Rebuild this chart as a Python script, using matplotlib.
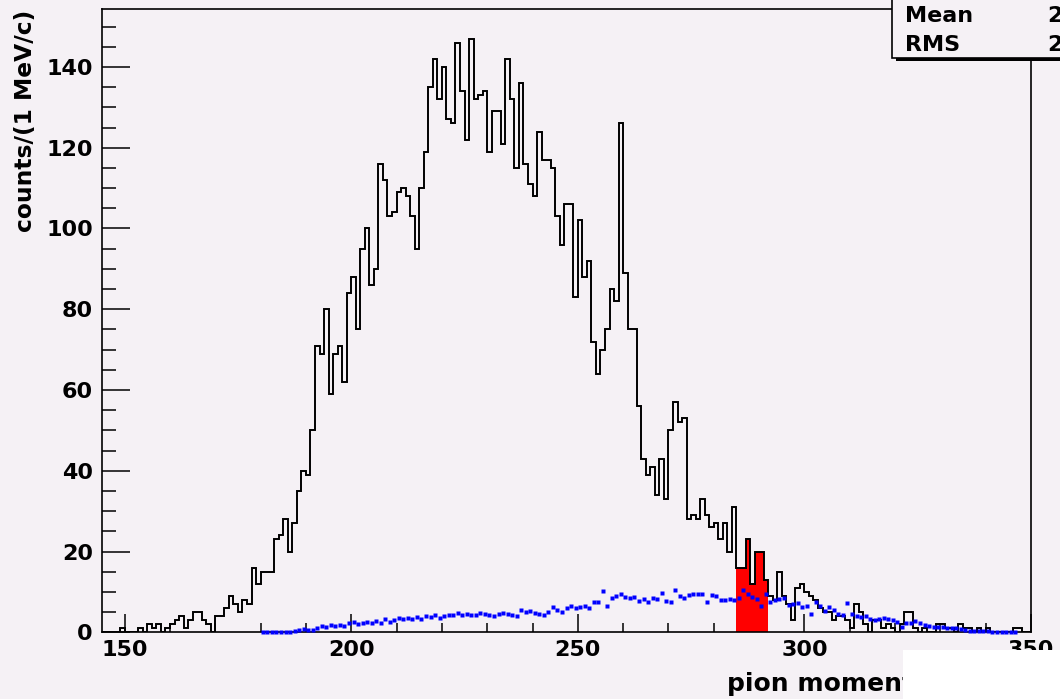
import numpy as np
import matplotlib
matplotlib.use("Agg")
import matplotlib.pyplot as plt
from matplotlib.patches import Rectangle
from matplotlib.ticker import MultipleLocator

# ---- data: 1 MeV/c bins -------------------------------------------------
bin_low = 145          # lower edge of the first bin (MeV/c)
signal_counts = [
    0, 0, 0, 0, 1, 0, 0, 0, 1, 0,
    2, 1, 2, 0, 1, 2, 3, 4, 1, 3,
    5, 5, 3, 2, 0, 4, 4, 6, 9, 7,
    5, 8, 7, 16, 12, 15, 15, 15, 23, 24,
    28, 20, 27, 35, 40, 39, 50, 71, 69, 80,
    59, 69, 71, 62, 84, 88, 75, 95, 100, 86,
    90, 116, 112, 103, 104, 109, 110, 108, 103, 95,
    110, 119, 135, 142, 132, 140, 127, 126, 146, 134,
    122, 147, 132, 133, 134, 119, 129, 129, 121, 142,
    132, 115, 136, 116, 111, 108, 124, 117, 117, 115,
    103, 96, 106, 106, 83, 102, 88, 92, 72, 64,
    70, 75, 85, 82, 126, 89, 75, 75, 56, 43,
    39, 41, 34, 43, 33, 50, 57, 52, 53, 28,
    29, 28, 33, 29, 26, 27, 23, 27, 20, 31,
    16, 16, 23, 12, 20, 20, 13, 9, 8, 15,
    9, 7, 3, 11, 12, 10, 9, 8, 6, 5,
    5, 3, 4, 4, 3, 1, 7, 5, 2, 0,
    3, 3, 1, 2, 1, 0, 2, 5, 5, 1,
    0, 1, 0, 0, 2, 2, 1, 1, 0, 2,
    1, 1, 0, 1, 0, 1, 0, 0, 0, 0,
    0, 1, 1, 0, 0,
]

bkg_low = 180          # first bin of the background estimate
bkg_counts = [
    0, 0, 0, 0, 0, 0, 0, 0.4, 0.5, 0.7,
    0.6, 0.5, 1.0, 1.5, 1.2, 1.8, 1.6, 1.8, 1.5, 2.2,
    2.6, 2.0, 2.4, 2.6, 2.2, 2.8, 2.4, 3.2, 2.6, 3.0,
    3.6, 3.2, 3.6, 3.4, 3.8, 3.4, 4.0, 3.8, 4.2, 3.6,
    4.0, 4.4, 4.2, 4.8, 4.2, 4.6, 4.4, 4.2, 4.8, 4.6,
    4.2, 4.0, 4.6, 4.8, 4.6, 4.4, 4.0, 5.4, 5.0, 5.2,
    4.8, 4.6, 4.2, 5.0, 6.2, 5.6, 5.0, 6.0, 6.4, 6.0,
    6.2, 6.6, 6.0, 7.4, 7.6, 10.2, 6.6, 8.4, 9.0, 9.4,
    8.8, 8.4, 8.8, 7.8, 8.2, 7.4, 8.6, 8.2, 9.8, 7.8,
    7.6, 10.4, 9.0, 8.6, 9.2, 9.4, 9.6, 9.6, 7.6, 9.2,
    9.0, 8.0, 8.0, 8.2, 8.0, 8.4, 10.4, 9.6, 8.8, 8.2,
    6.4, 9.6, 7.4, 8.0, 8.2, 8.4, 6.8, 7.0, 7.3, 6.2,
    6.4, 4.6, 7.4, 6.4, 5.2, 6.2, 5.4, 4.6, 4.4, 7.2,
    4.6, 4.0, 3.8, 4.0, 3.4, 3.0, 3.2, 3.6, 3.4, 3.0,
    2.6, 1.2, 2.2, 2.4, 2.8, 2.2, 1.8, 1.6, 1.4, 1.2,
    1.2, 1.0, 1.0, 1.0, 0.7, 0.6, 0.4, 0.4, 0.3, 0.2,
    0.2, 0.1, 0.1, 0.1, 0, 0, 0,
]

window = (285, 292)    # selected momentum window (filled)

x_ticks = [150, 200, 250, 300, 350]
y_ticks = [0, 20, 40, 60, 80, 100, 120, 140]
x_title = "pion momentum (MeV/c)"
y_title = "counts/(1 MeV/c)"

# ---- derived quantities ---------------------------------------------------
counts = np.asarray(signal_counts, dtype=float)
edges = bin_low + np.arange(len(counts) + 1)
centers = 0.5 * (edges[:-1] + edges[1:])
mean = np.sum(centers * counts) / np.sum(counts)
rms = np.sqrt(np.sum(counts * (centers - mean) ** 2) / np.sum(counts))

bkg = np.asarray(bkg_counts, dtype=float)
bkg_x = bkg_low + 0.5 + np.arange(len(bkg))

sel = (edges[:-1] >= window[0]) & (edges[:-1] < window[1])
sel_edges = np.append(edges[:-1][sel], edges[:-1][sel][-1] + 1)

# ---- figure -----------------------------------------------------------------
W, H = 1060, 699
BG = "#F5F1F5"
plt.rcParams["font.family"] = ["DejaVu Sans"]
plt.rcParams["font.weight"] = "bold"

fig = plt.figure(figsize=(W / 100, H / 100), dpi=100, facecolor=BG)


def fx(px):
    return px / W


def fy(py):
    return 1 - py / H


ax_l, ax_r, ax_t, ax_b = 102, 1031, 9, 632.3
ax = fig.add_axes([fx(ax_l), fy(ax_b), fx(ax_r - ax_l), (ax_b - ax_t) / H])
ax.set_facecolor(BG)

ax.stairs(counts[sel], sel_edges, fill=True, color="#FF0000", zorder=2)
ax.stairs(counts, edges, baseline=0, color="black", lw=1.4, zorder=3)
ax.plot(bkg_x, bkg, ls="none", marker="s", ms=3.0, color="#0000FF",
        mec="none", zorder=4, clip_on=False)

ax.set_xlim(edges[0], edges[-1])
ax.set_ylim(0, 1.05 * counts.max())

for s in ax.spines.values():
    s.set_linewidth(1.2)
    s.set_color("black")

ax.set_xticks(x_ticks)
ax.set_yticks(y_ticks)
ax.xaxis.set_minor_locator(MultipleLocator(10))
ax.yaxis.set_minor_locator(MultipleLocator(5))
ax.tick_params(axis="both", which="both", direction="in", width=1.1,
               color="black", top=False, right=False)
ax.tick_params(axis="x", which="major", length=13, pad=5.5, labelsize=16)
ax.tick_params(axis="x", which="minor", length=6.5)
ax.tick_params(axis="y", which="major", length=20, pad=6.5, labelsize=16)
ax.tick_params(axis="y", which="minor", length=10)
for lab in ax.get_xticklabels() + ax.get_yticklabels():
    lab.set_fontweight("bold")

fig.text(fx(26), fy(10), y_title, rotation=90, ha="center", va="top",
         fontsize=16.8, fontweight="bold")
fig.text(fx(727), fy(691.5), x_title, ha="left", va="baseline",
         fontsize=18, fontweight="bold")

# statistics box in the upper right corner
fig.add_artist(Rectangle((fx(896), fy(61)), fx(200), (61 + 10) / H,
                         transform=fig.transFigure, facecolor="black",
                         edgecolor="none", zorder=5))
fig.add_artist(Rectangle((fx(892), fy(58)), fx(200), (58 + 10) / H,
                         transform=fig.transFigure, facecolor=BG,
                         edgecolor="black", lw=1.2, zorder=6))
fig.text(fx(905), fy(22), "Mean", ha="left", va="baseline", fontsize=16,
         fontweight="bold", zorder=7)
fig.text(fx(905), fy(51), "RMS", ha="left", va="baseline", fontsize=16,
         fontweight="bold", zorder=7)
fig.text(fx(1047), fy(22), f"{mean:.1f}", ha="left", va="baseline",
         fontsize=16, fontweight="bold", zorder=7)
fig.text(fx(1047), fy(51), f"{rms:.2f}", ha="left", va="baseline",
         fontsize=16, fontweight="bold", zorder=7)

# blank label area at the lower right
fig.add_artist(Rectangle((fx(903), 0), fx(W - 903), (H - 650) / H,
                         transform=fig.transFigure, facecolor="white",
                         edgecolor="none", zorder=8))

fig.savefig("out.png", dpi=100, facecolor=BG)
